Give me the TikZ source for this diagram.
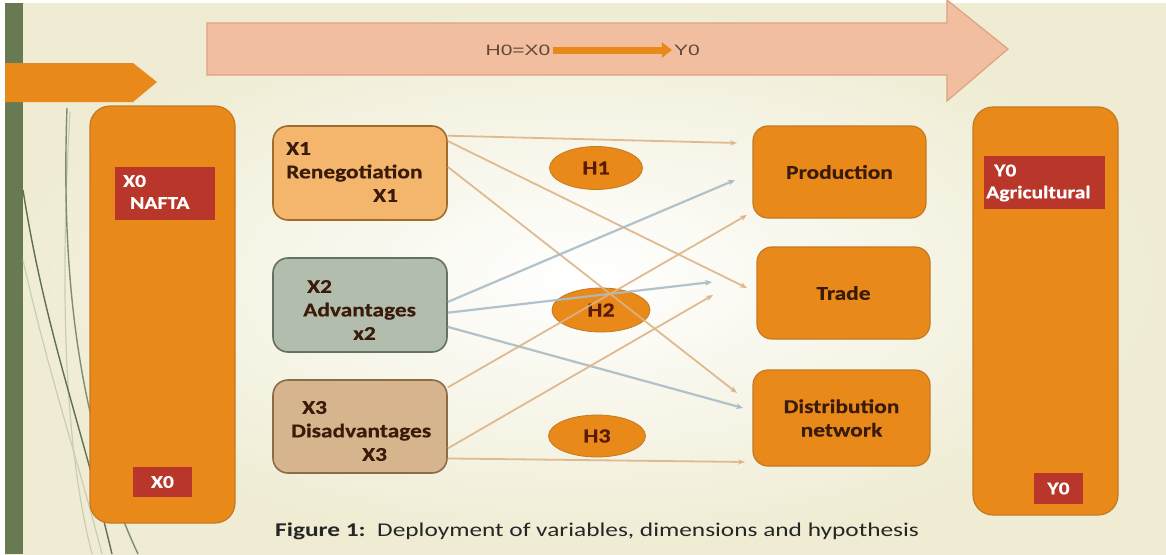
\documentclass[tikz,border=0pt]{standalone}
\usepackage{fontspec}
\setmainfont{Carlito}[FakeStretch=1.2, BoldFeatures={FakeBold=0.5}]
\newfontfamily\capfont{Carlito}[FakeStretch=1.3]
\newfontfamily\titlefont{Liberation Sans}[FakeStretch=1.4]
\usetikzlibrary{arrows.meta,shapes.geometric}
\definecolor{bgcream}{HTML}{EFECD3}
\definecolor{greenbar}{HTML}{677A52}
\definecolor{orangeF}{HTML}{E8891A}
\definecolor{obord}{HTML}{C27A22}
\definecolor{redF}{HTML}{B9372A}
\definecolor{xonefill}{HTML}{F4B66C}
\definecolor{xoneborder}{HTML}{A06C2C}
\definecolor{xtwofill}{HTML}{B3BDAE}
\definecolor{xtwoborder}{HTML}{627260}
\definecolor{xthreefill}{HTML}{D5B48E}
\definecolor{xthreeborder}{HTML}{8C6C48}
\definecolor{pinkF}{HTML}{F2BEA0}
\definecolor{pinkB}{HTML}{DDA282}
\definecolor{tanL}{HTML}{DDB487}
\definecolor{blueL}{HTML}{A9BCC6}
\definecolor{darktext}{HTML}{3A1A08}
\definecolor{hyptext}{HTML}{5A1A05}
\definecolor{curveD}{HTML}{5F7050}
\definecolor{curveL}{HTML}{C9CDB6}
\begin{document}
\begin{tikzpicture}[x=1pt,y=-1pt,
  boxfont/.style={font=\bfseries\fontsize{19.5}{23.5}\selectfont},
  bigbox/.style={draw=obord, line width=1.2pt, fill=orangeF, rounded corners=20pt, minimum width=145pt},
  redlab/.style={fill=redF, draw=none, inner sep=0pt},
  labtext/.style={text=white, font=\bfseries\fontsize{18}{22}\selectfont, align=left, inner sep=0pt, anchor=west},
  xbox/.style={rounded corners=15pt, line width=1.6pt, minimum width=174pt, minimum height=94pt},
  xtext/.style={boxfont, text=darktext, align=left, inner sep=0pt, anchor=west},
  dimbox/.style={draw=obord, line width=1.2pt, fill=orangeF, rounded corners=15pt, boxfont, text=darktext, align=center},
  hyp/.style={ellipse, fill=orangeF, draw=obord, line width=0.8pt, minimum width=96pt, minimum height=43pt, inner sep=0pt, text=hyptext, font=\bfseries\fontsize{20}{22}\selectfont},
  tanarrow/.style={draw=tanL, line width=1.8pt, -{Stealth[length=7pt,width=5.5pt]}},
  bluearrow/.style={draw=blueL, line width=2.2pt, -{Stealth[length=7pt,width=6pt]}}
]
\useasboundingbox (0,0) rectangle (1166,554);
% background
\fill[white] (0,0) rectangle (1166,554);
\shade[inner color=white, outer color=bgcream] (5,3) rectangle (1166,554);
\fill[greenbar] (5,3) rectangle (23,554);
% decorative curves
\draw[curveL, line width=1.2pt] (70,112) .. controls (58,320) and (68,460) .. (92,554);
\draw[curveL, line width=1.2pt] (23,260) .. controls (50,380) and (78,460) .. (102,554);
\draw[curveD, line width=1.4pt] (23,190) .. controls (45,330) and (80,420) .. (112,554);
\draw[curveD!70!curveL, line width=1.4pt] (67,108) .. controls (60,300) and (85,440) .. (138,554);
% left orange arrow
\fill[orangeF] (5,63) -- (133,63) -- (157,82) -- (133,102) -- (5,102) -- cycle;
% big pink arrow
\draw[pinkB, fill=pinkF, line width=1.2pt] (207,23) -- (947,23) -- (947,0) -- (1008,49) -- (947,101) -- (947,75) -- (207,75) -- cycle;
\node[font=\titlefont\fontsize{15}{17}\selectfont, text=darktext!80, inner sep=2pt] (hzero) at (518,50) {H0=X0};
\node[font=\titlefont\fontsize{15}{17}\selectfont, text=darktext!80, inner sep=2pt] (yzero) at (687,50) {Y0};
\draw[orangeF, line width=7pt, -{Triangle[length=10pt,width=15pt]}] (hzero.east) -- (yzero.west);

% X0 big box and labels
\node[bigbox, minimum height=417pt] (xzero) at (162.5,314.5) {};
\node[redlab, minimum width=100pt, minimum height=53pt] (nafta) at (165,193.5) {};
\node[labtext] (naftatext) at (123,192) {X0\\\hspace*{7pt}NAFTA};
\node[redlab, minimum width=59pt, minimum height=30pt, text=white, font=\bfseries\fontsize{18}{22}\selectfont] (xzerosmall) at (162.5,482) {X0};

% Y0 big box and labels
\node[bigbox, minimum height=408pt] (yzerobox) at (1045.5,311) {};
\node[redlab, minimum width=121pt, minimum height=53pt] (agri) at (1044.5,182.5) {};
\node[labtext] (agritext) at (986,183) {\hspace*{8pt}Y0\\Agricultural};
\node[redlab, minimum width=49pt, minimum height=31pt, text=white, font=\bfseries\fontsize{18}{22}\selectfont] (yzerosmall) at (1058.5,488.5) {Y0};

% X boxes
\node[xbox, draw=xoneborder, fill=xonefill] (X1) at (360,173) {};
\node[xtext] (X1t) at (286,172) {X1\\Renegotiation\\\hspace*{87pt}X1};
\node[xbox, draw=xtwoborder, fill=xtwofill] (X2) at (360,305) {};
\node[xtext] (X2t) at (303,310) {\hspace*{4pt}X2\\Advantages\\\hspace*{50pt}x2};
\node[xbox, draw=xthreeborder, fill=xthreefill, minimum height=93pt] (X3) at (360,426.5) {};
\node[xtext] (X3t) at (291,431) {\hspace*{11pt}X3\\Disadvantages\\\hspace*{71pt}X3};

% dimension boxes
\node[dimbox, minimum width=173pt, minimum height=92pt] (P) at (839.5,172) {Production};
\node[dimbox, minimum width=173pt, minimum height=92pt] (T) at (843.5,293) {Trade};
\node[dimbox, minimum width=177pt, minimum height=96pt] (D) at (841.5,418) {Distribution\\network};

% hypotheses
\node[hyp, minimum width=93pt] (H1) at (596,168) {H1};
\node[hyp, minimum width=98pt, minimum height=44pt] (H2) at (601,310) {H2};
\node[hyp, minimum width=97pt, minimum height=42pt] (H3) at (597,436) {H3};

% arrow end points
\coordinate (e1) at (737,143);
\coordinate (e2) at (747,288);
\coordinate (e3) at (737,393);
\coordinate (e4) at (735,180);
\coordinate (e5) at (747,215);
\coordinate (e6) at (712,282);
\coordinate (e7) at (713,295);
\coordinate (e8) at (743,408);
\coordinate (e9) at (745,462);

\begin{scope}[opacity=0.9]
\draw[tanarrow] (X1.23) -- (e1);
\draw[tanarrow] (X1.20) -- (e2);
\draw[tanarrow] (X1.4) -- (e3);
\draw[bluearrow] (X2.2) -- (e4);
\draw[bluearrow] (X2.-5) -- (e6);
\draw[bluearrow] (X2.-14) -- (e8);
\draw[tanarrow] (X3.24) -- (e5);
\draw[tanarrow] (X3.-14) -- (e7);
\draw[tanarrow] (X3.-20) -- (e9);
\end{scope}

% caption
\node[anchor=west, inner sep=0pt, text=black!85, font=\capfont\fontsize{19.5}{21}\selectfont] (cap) at (275,531) {\textbf{Figure 1:}\ \ Deployment of variables, dimensions and hypothesis};
\end{tikzpicture}
\end{document}
